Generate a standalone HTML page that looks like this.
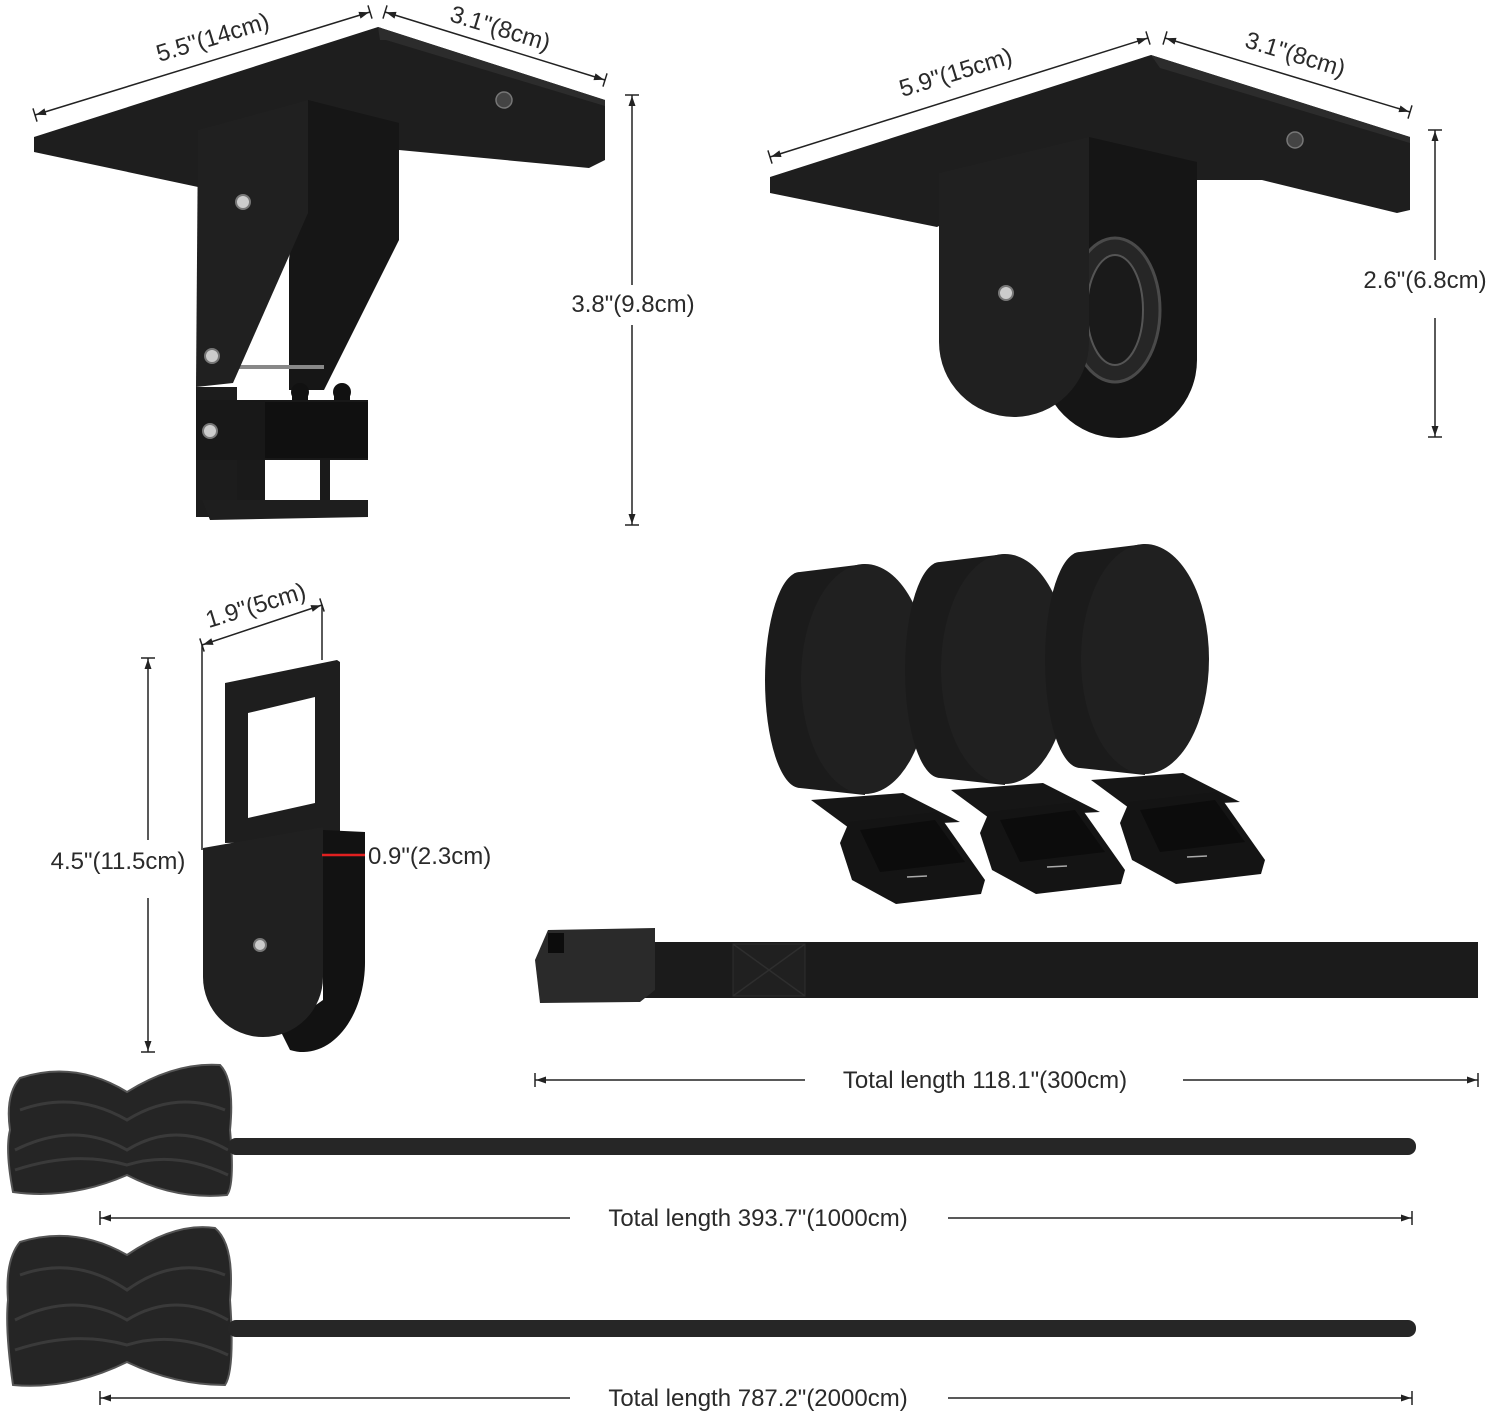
<!DOCTYPE html>
<html><head><meta charset="utf-8"><style>
html,body{margin:0;padding:0;background:#fff;}
svg{display:block;}
text{font-family:"Liberation Sans",sans-serif;font-size:24px;fill:#2a2a2a;}
</style></head><body>
<svg width="1500" height="1416" viewBox="0 0 1500 1416" xmlns="http://www.w3.org/2000/svg">
<defs>
<marker id="s" markerWidth="14" markerHeight="14" refX="1" refY="7" orient="auto" markerUnits="userSpaceOnUse"><path d="M1,0 L1,14" stroke="#222" stroke-width="1.5"/><path d="M2,7 L12,3.5 L12,10.5 Z" fill="#222"/></marker>
<marker id="e" markerWidth="14" markerHeight="14" refX="13" refY="7" orient="auto" markerUnits="userSpaceOnUse"><path d="M13,0 L13,14" stroke="#222" stroke-width="1.5"/><path d="M12,7 L2,3.5 L2,10.5 Z" fill="#222"/></marker>
<marker id="es" markerWidth="14" markerHeight="14" refX="1" refY="7" orient="auto" markerUnits="userSpaceOnUse"><path d="M1,0 L1,14" stroke="#222" stroke-width="1.5"/></marker>
</defs>
<g stroke="#222" stroke-width="1.5" fill="none" marker-start="url(#s)" marker-end="url(#e)">
<line x1="35" y1="115" x2="370" y2="12"/>
<line x1="385" y1="12" x2="605" y2="80"/>
<line x1="770" y1="157" x2="1148" y2="38"/>
<line x1="1165" y1="38" x2="1410" y2="112"/>
<line x1="202" y1="645" x2="322" y2="605"/>
</g>
<g stroke="#222" stroke-width="1.5" fill="none">
<line x1="632" y1="95" x2="632" y2="285" marker-start="url(#s)"/><line x1="632" y1="325" x2="632" y2="525" marker-end="url(#e)"/>
<line x1="1435" y1="130" x2="1435" y2="260" marker-start="url(#s)"/><line x1="1435" y1="318" x2="1435" y2="437" marker-end="url(#e)"/>
<line x1="148" y1="658" x2="148" y2="840" marker-start="url(#s)"/><line x1="148" y1="898" x2="148" y2="1052" marker-end="url(#e)"/>
<line x1="202" y1="645" x2="202" y2="850"/><line x1="322" y1="605" x2="322" y2="660"/>
<line x1="535" y1="1080" x2="805" y2="1080" marker-start="url(#s)"/><line x1="1183" y1="1080" x2="1478" y2="1080" marker-end="url(#e)"/>
<line x1="100" y1="1218" x2="570" y2="1218" marker-start="url(#s)"/><line x1="948" y1="1218" x2="1412" y2="1218" marker-end="url(#e)"/>
<line x1="100" y1="1398" x2="570" y2="1398" marker-start="url(#s)"/><line x1="948" y1="1398" x2="1412" y2="1398" marker-end="url(#e)"/>
</g>

<text transform="translate(215,45) rotate(-17)" text-anchor="middle">5.5"(14cm)</text>
<text transform="translate(498,36) rotate(17)" text-anchor="middle">3.1"(8cm)</text>
<text transform="translate(958,80) rotate(-17)" text-anchor="middle">5.9"(15cm)</text>
<text transform="translate(1293,62) rotate(17)" text-anchor="middle">3.1"(8cm)</text>
<text transform="translate(258,613) rotate(-17)" text-anchor="middle">1.9"(5cm)</text>
<text x="633" y="312" text-anchor="middle">3.8"(9.8cm)</text>
<text x="1425" y="288" text-anchor="middle">2.6"(6.8cm)</text>
<text x="118" y="869" text-anchor="middle">4.5"(11.5cm)</text>
<text x="368" y="864">0.9"(2.3cm)</text>
<text x="985" y="1088" text-anchor="middle">Total length 118.1"(300cm)</text>
<text x="758" y="1226" text-anchor="middle">Total length 393.7"(1000cm)</text>
<text x="758" y="1406" text-anchor="middle">Total length 787.2"(2000cm)</text>

<!-- top-left bracket -->
<polygon points="34,137 378,27 605,100 605,160 589,168 399,150 198,187 34,152" fill="#1e1e1e"/>
<polygon points="378,27 605,100 605,106 386,40 380,40" fill="#2c2c2c"/>
<polygon points="308,100 399,123 399,240 324,390 289,390 289,260" fill="#161616"/>
<line x1="233" y1="367" x2="324" y2="367" stroke="#888" stroke-width="4"/>
<polygon points="198,130 308,100 308,213 233,383 196,387" fill="#202020"/>
<rect x="196" y="387" width="41" height="130" fill="#1c1c1c"/>
<circle cx="300" cy="392" r="9" fill="#111"/><circle cx="342" cy="392" r="9" fill="#111"/>
<rect x="292" y="392" width="16" height="10" fill="#111"/><rect x="334" y="392" width="16" height="10" fill="#111"/>
<rect x="196" y="400" width="172" height="60" fill="#181818"/>
<rect x="265" y="402" width="103" height="56" fill="#101010"/>
<rect x="320" y="460" width="10" height="42" fill="#1a1a1a"/>
<rect x="237" y="460" width="28" height="42" fill="#1a1a1a"/>
<polygon points="202,500 368,500 368,517 210,520" fill="#1e1e1e"/>
<circle cx="504" cy="100" r="8" fill="#444" stroke="#777" stroke-width="1.5"/>
<g fill="#ccc" stroke="#777" stroke-width="2"><circle cx="243" cy="202" r="7"/><circle cx="212" cy="356" r="7"/><circle cx="210" cy="431" r="7"/></g>

<!-- top-right pulley -->
<polygon points="770,177 1151,55 1410,137 1410,210 1397,213 1262,180 1030,180 937,227 770,193" fill="#1e1e1e"/>
<polygon points="1151,55 1410,137 1410,143 1160,68" fill="#2c2c2c"/>
<path d="M1089,137 L1197,162 L1197,360 A78,78 0 0 1 1041,360 L1041,300 L1089,300 Z" fill="#151515"/>
<ellipse cx="1115" cy="310" rx="45" ry="72" fill="#262626" stroke="#4a4a4a" stroke-width="3"/>
<ellipse cx="1115" cy="310" rx="28" ry="55" fill="#1a1a1a" stroke="#555" stroke-width="2"/>
<path d="M939,173 L1089,137 L1089,342 A75,75 0 0 1 939,342 Z" fill="#202020"/>
<circle cx="1295" cy="140" r="8" fill="#444" stroke="#777" stroke-width="1.5"/>
<circle cx="1006" cy="293" r="7" fill="#ccc" stroke="#777" stroke-width="2"/>

<!-- small pulley -->
<path d="M225,683 L337,660 L340,662 L340,840 L225,843 Z" fill="#1e1e1e"/>
<polygon points="248,713 315,697 315,803 248,818" fill="#fff"/>
<path d="M323,830 L365,832 L365,960 A62,90 0 0 1 290,1050 L280,1030 L323,1000 Z" fill="#121212"/>
<path d="M203,848 L323,827 L323,977 A60,60 0 0 1 203,977 Z" fill="#202020"/>
<circle cx="260" cy="945" r="6" fill="#ccc" stroke="#777" stroke-width="2"/>
<line x1="322" y1="855" x2="365" y2="855" stroke="#e02020" stroke-width="2.5"/>

<!-- strap rolls -->
<g id="roll">
<polygon points="849,828 811,800 903,793 960,822" fill="#161616"/>
<path d="M849,822 L937,812 L985,880 L981,894 L896,904 L852,880 L840,843 Z" fill="#141414"/>
<path d="M860,830 L935,820 L965,862 L880,872 Z" fill="#0c0c0c"/>
<line x1="907" y1="877" x2="927" y2="876" stroke="#aaa" stroke-width="1.5"/>
<ellipse cx="800" cy="680" rx="35" ry="108" fill="#1b1b1b"/>
<polygon points="800,572 865,564 865,795 800,788" fill="#1b1b1b"/>
<ellipse cx="865" cy="679" rx="64" ry="115" fill="#202020"/>
</g>
<use href="#roll" transform="translate(140,-10)"/>
<use href="#roll" transform="translate(280,-20)"/>

<!-- long strap -->
<rect x="640" y="942" width="838" height="56" fill="#1b1b1b"/>
<rect x="733" y="944" width="72" height="52" fill="#202020" stroke="#2e2e2e"/>
<path d="M733,944 L805,996 M805,944 L733,996" stroke="#2e2e2e" stroke-width="1.5"/>
<path d="M548,930 L655,928 L655,990 L640,1002 L540,1003 L535,960 Z" fill="#2a2a2a"/>
<rect x="548" y="933" width="16" height="20" fill="#0c0c0c"/>

<!-- ropes -->
<g stroke="#555" stroke-width="2" fill="#252525">
<path d="M20,1078 Q75,1060 127,1092 Q175,1062 220,1065 Q235,1080 230,1130 Q235,1185 227,1195 Q175,1200 127,1175 Q70,1200 13,1192 Q5,1150 10,1130 Q5,1095 20,1078 Z"/>
<path d="M20,1242 Q75,1225 127,1255 Q175,1222 215,1228 Q235,1245 230,1300 Q235,1370 225,1385 Q175,1385 127,1362 Q70,1390 13,1385 Q5,1330 8,1300 Q5,1260 20,1242 Z"/>
</g>
<g stroke="#3a3a3a" stroke-width="3" fill="none">
<path d="M20,1110 Q75,1090 127,1120 Q175,1090 225,1110"/>
<path d="M15,1150 Q75,1120 127,1150 Q175,1120 228,1150"/>
<path d="M15,1170 Q75,1150 127,1165 Q175,1150 228,1175"/>
<path d="M20,1275 Q75,1255 127,1290 Q175,1255 225,1275"/>
<path d="M15,1320 Q75,1290 127,1320 Q175,1290 228,1320"/>
<path d="M15,1350 Q75,1330 127,1345 Q175,1330 228,1355"/>
</g>
<rect x="228" y="1138" width="1188" height="17" rx="8" fill="#262626"/>
<rect x="228" y="1320" width="1188" height="17" rx="8" fill="#262626"/>
</svg>
</body></html>
